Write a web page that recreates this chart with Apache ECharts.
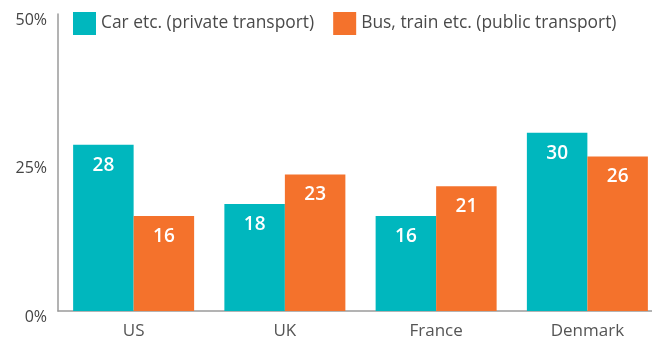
<!DOCTYPE html>
<html>
<head>
<meta charset="utf-8">
<script src="https://cdn.jsdelivr.net/npm/echarts@6/dist/echarts.min.js"></script>
<style>
  html, body { margin: 0; padding: 0; background: #fff; overflow: hidden; }
  #chart { width: 664px; height: 340px; }
</style>
</head>
<body>
<div id="chart"></div>
<script>
// Share of trips by transport mode, per country (%)
const countries = ['US', 'UK', 'France', 'Denmark'];
const seriesNames = ['Car etc. (private transport)', 'Bus, train etc. (public transport)'];
const privateTransport = [28, 18, 16, 30];
const publicTransport = [16, 23, 21, 26];
const yTicks = [0, 25, 50];

const FONT = '"Open Sans", sans-serif';
const TEAL = '#00b7be';
const ORANGE = '#f4722c';

const chart = echarts.init(document.getElementById('chart'), null, { renderer: 'canvas' });

const barLabel = {
  show: true,
  position: 'insideTop',
  distance: 11,
  color: '#ffffff',
  fontFamily: FONT,
  fontWeight: 600,
  fontSize: 19
};

chart.setOption({
  animation: false,
  textStyle: { fontFamily: FONT },
  legend: {
    left: 73,
    top: 12,
    padding: 0,
    itemWidth: 23,
    itemHeight: 23,
    itemGap: 19,
    icon: 'rect',
    textStyle: { fontFamily: FONT, fontSize: 17.4, color: '#4a4a4a' },
    data: seriesNames
  },
  grid: {
    left: 58,
    top: 14,
    width: 605,
    height: 300,
    containLabel: false
  },
  xAxis: {
    type: 'category',
    data: countries,
    axisLine: { show: true, lineStyle: { color: '#9a9a9a', width: 1.5 } },
    axisTick: { show: false },
    axisLabel: { fontFamily: FONT, fontSize: 17, color: '#555555', margin: 12 }
  },
  yAxis: {
    type: 'value',
    min: yTicks[0],
    max: yTicks[yTicks.length - 1],
    interval: yTicks[1] - yTicks[0],
    axisLine: { show: true, lineStyle: { color: '#9a9a9a', width: 1.5 } },
    axisTick: { show: false },
    splitLine: { show: false },
    axisLabel: {
      fontFamily: FONT,
      fontSize: 16,
      color: '#444444',
      margin: 11,
      verticalAlign: 'top',
      lineHeight: 12,
      formatter: v => v + '%'
    }
  },
  series: [
    {
      name: seriesNames[0],
      type: 'bar',
      data: privateTransport,
      itemStyle: { color: TEAL },
      barGap: '0%',
      barCategoryGap: '20%',
      label: barLabel
    },
    {
      name: seriesNames[1],
      type: 'bar',
      data: publicTransport,
      itemStyle: { color: ORANGE },
      barGap: '0%',
      barCategoryGap: '20%',
      label: barLabel
    }
  ]
});
</script>
</body>
</html>
